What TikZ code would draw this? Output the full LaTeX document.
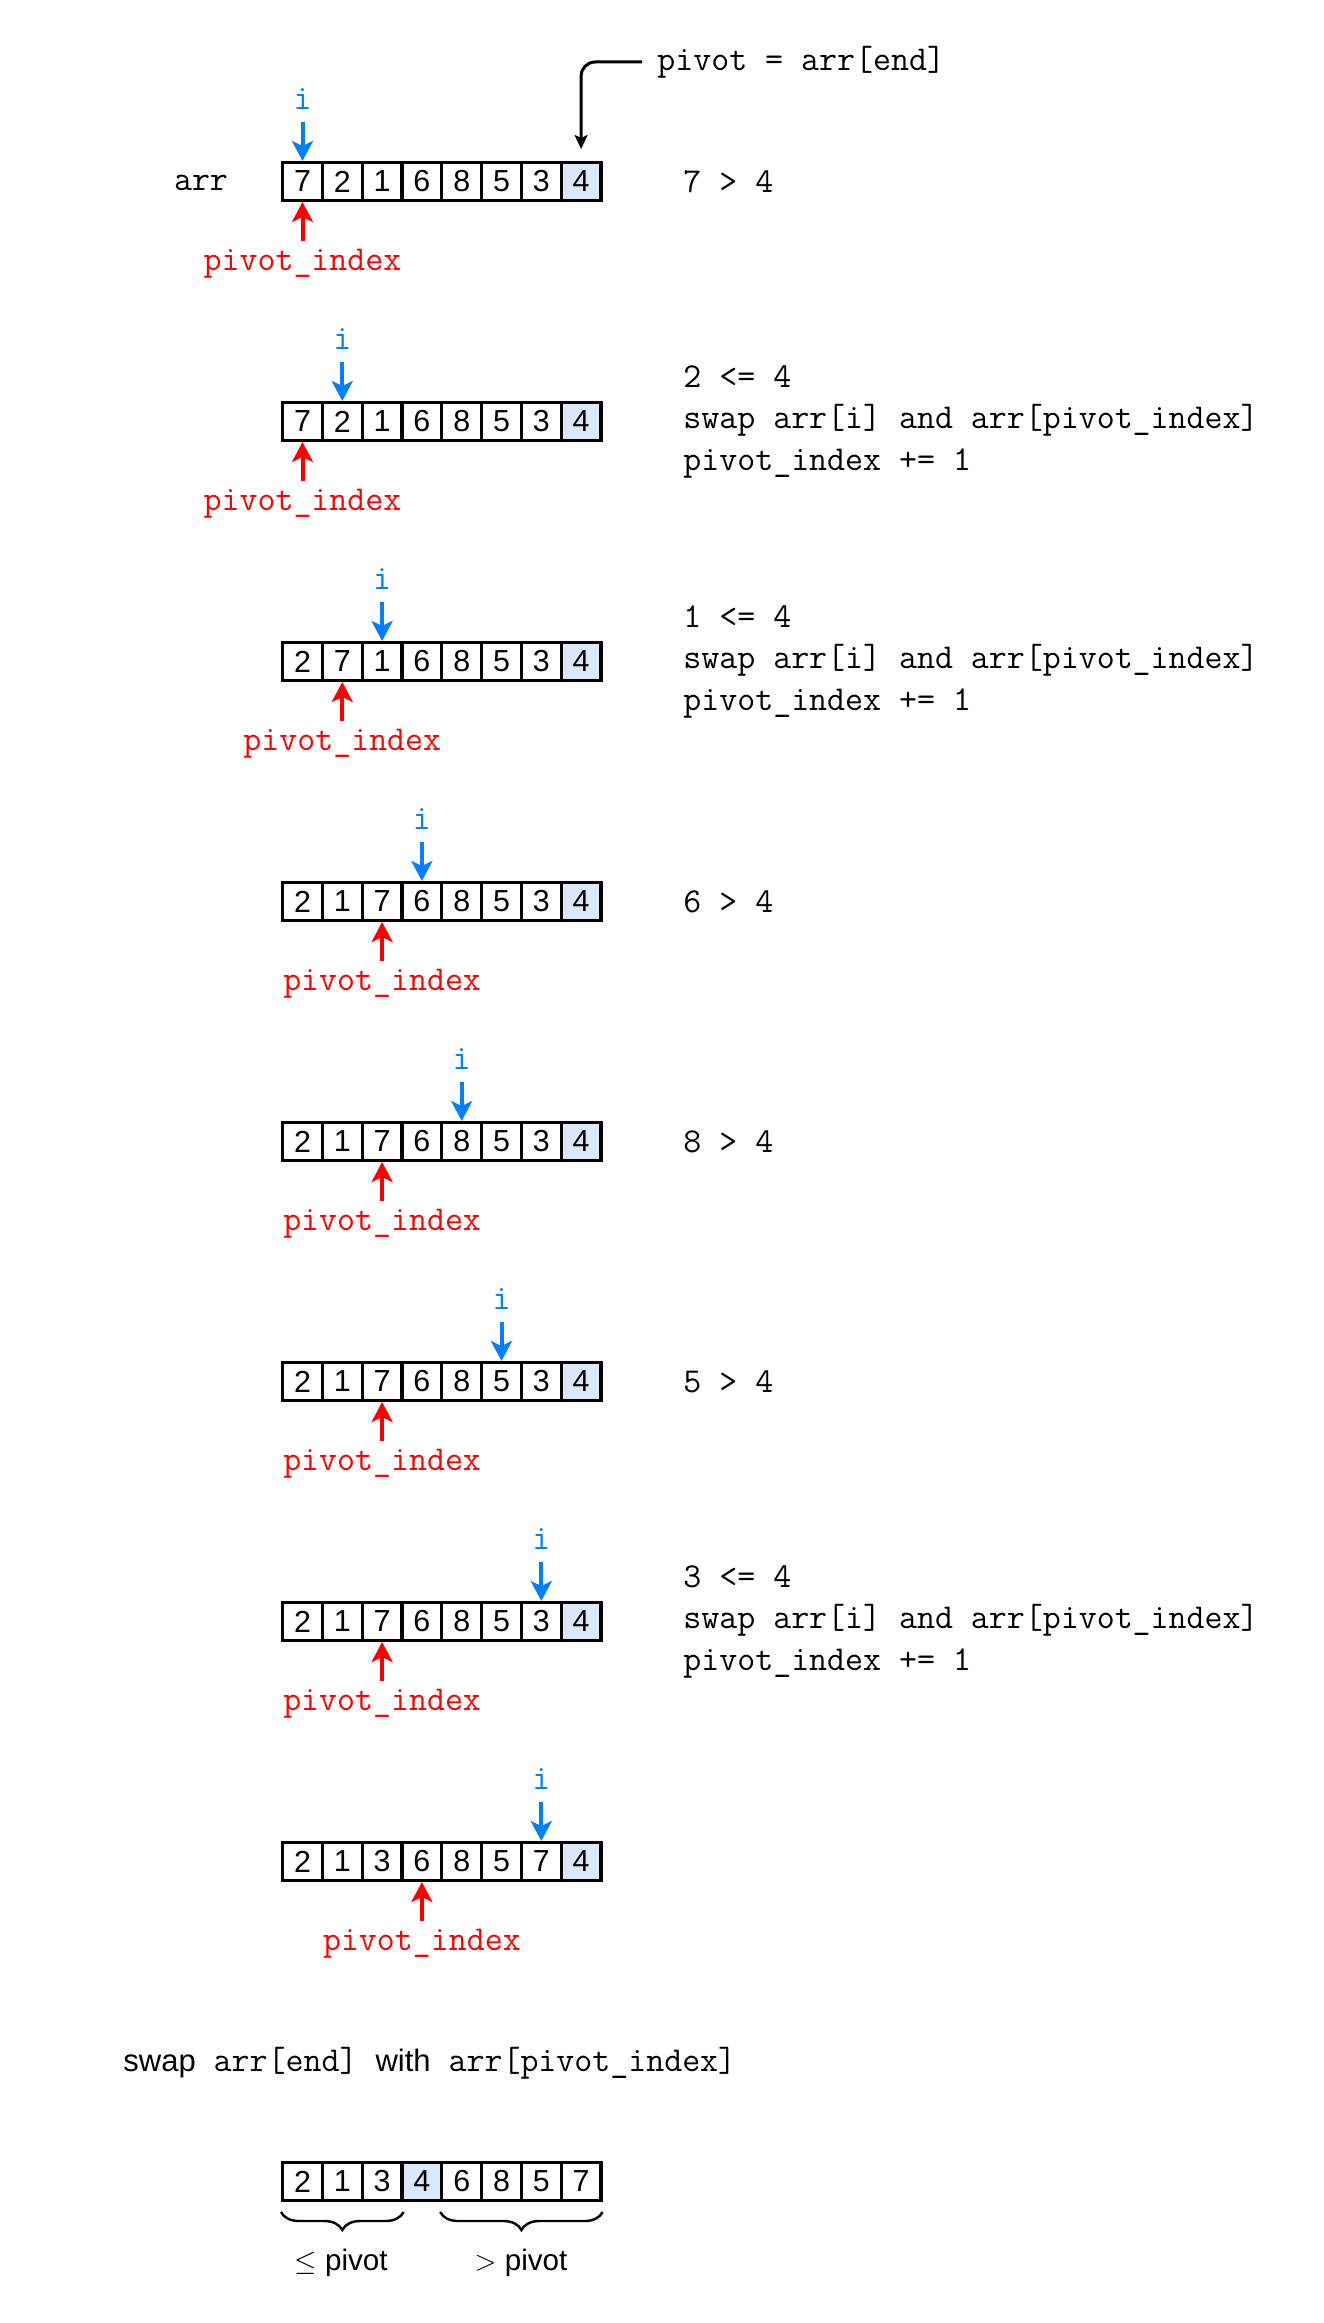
\documentclass[tikz,border=0pt]{standalone}
\usepackage{amsmath}
\usepackage{amssymb}
\usepackage{fontspec}
\setsansfont{Liberation Sans}
\usetikzlibrary{arrows.meta,decorations.pathreplacing}
\definecolor{iblue}{RGB}{0,127,255}
\definecolor{pired}{RGB}{255,0,0}
\definecolor{pivfill}{HTML}{DAE8FC}

\begin{document}
\begin{tikzpicture}[x=0.5pt, y=-0.5pt,
	cell/.style={draw=black, line width=1.6pt, minimum width=19.9pt, minimum height=18.9pt, inner sep=0pt, font=\sffamily\fontsize{15.2}{16}\selectfont},
	code/.style={font=\ttfamily\fontsize{17.45}{20.75}\selectfont, inner sep=0pt},
	note/.style={code, anchor=west, align=left},
	ilbl/.style={code, text=iblue, anchor=south, inner sep=6pt},
	plbl/.style={code, text=pired, anchor=north, inner sep=4pt},
	iarrow/.style={-{Stealth[length=10pt, width=10.5pt, inset=2.5pt]}, line width=2pt, draw=iblue},
	parrow/.style={-{Stealth[length=10pt, width=10.5pt, inset=2.5pt]}, line width=2pt, draw=pired},
	pvarrow/.style={-{Stealth[length=7pt, width=6.5pt, inset=1.5pt]}, line width=1.5pt, rounded corners=7pt},
	brc/.style={decorate, decoration={brace, amplitude=9pt}, line width=1.2pt},
	brlbl/.style={font=\sffamily\fontsize{14.8}{16}\selectfont, inner sep=0pt}]
	\useasboundingbox (0,0) rectangle (1323,2323);

	% rows: number / y / pivot cell / i / pivot_index / values
	\foreach \r/\ry/\p/\ci/\cp/\vals in {
		1/181.5/8/1/1/{7,2,1,6,8,5,3,4},
		2/421.5/8/2/1/{7,2,1,6,8,5,3,4},
		3/661.5/8/3/2/{2,7,1,6,8,5,3,4},
		4/901.5/8/4/3/{2,1,7,6,8,5,3,4},
		5/1141.5/8/5/3/{2,1,7,6,8,5,3,4},
		6/1381.5/8/6/3/{2,1,7,6,8,5,3,4},
		7/1621.5/8/7/3/{2,1,7,6,8,5,3,4},
		8/1861.5/8/7/4/{2,1,3,6,8,5,7,4}} {
		\foreach \v [count=\c] in \vals {
			\ifnum\c=\p \def\cfill{pivfill}\else\def\cfill{white}\fi
			\node[cell, fill=\cfill] (r\r-\c) at ({282.6+39.8*(\c-0.5)}, \ry) {\v};
		}
		\node[ilbl] (i\r) at ({282.6+39.8*(\ci-0.5)}, \ry-59.5) {i};
		\draw[iarrow] (i\r) -- (r\r-\ci);
		\node[plbl] (p\r) at ({282.6+39.8*(\cp-0.5)}, \ry+59.5) {pivot\_index};
		\draw[parrow] (p\r) -- (r\r-\cp);
	}

	\node[code] (arr) at (201,183) {arr};
	\node[code, anchor=west] (pivlbl) at (657,62) {pivot = arr[end]};
	\draw[pvarrow, shorten <=7.5pt, shorten >=6pt] (pivlbl.west) -| (r1-8.north);

	% what happens at each step
	\node[note] (n1) at (683,181.5) {7 > 4};
	\node[note] (n2) at (683,421.5) {2 <= 4\\swap arr[i] and arr[pivot\_index]\\pivot\_index += 1};
	\node[note] (n3) at (683,661.5) {1 <= 4\\swap arr[i] and arr[pivot\_index]\\pivot\_index += 1};
	\node[note] (n4) at (683,901.5) {6 > 4};
	\node[note] (n5) at (683,1141.5) {8 > 4};
	\node[note] (n6) at (683,1381.5) {5 > 4};
	\node[note] (n7) at (683,1621.5) {3 <= 4\\swap arr[i] and arr[pivot\_index]\\pivot\_index += 1};

	% last swap
	\node[code, anchor=west] (swp) at (123,2063) {\textsf{\fontsize{15.5}{16}\selectfont swap} arr[end] \textsf{\fontsize{15.5}{16}\selectfont with} arr[pivot\_index]};
	\foreach \v [count=\c] in {2,1,3,4,6,8,5,7} {
		\ifnum\c=4 \def\cfill{pivfill}\else\def\cfill{white}\fi
		\node[cell, fill=\cfill] (r9-\c) at ({282.6+39.8*(\c-0.5)}, 2181.5) {\v};
	}
	\draw[brc] ([yshift=-5pt]r9-3.south east) -- ([yshift=-5pt]r9-1.south west);
	\draw[brc] ([yshift=-5pt]r9-8.south east) -- ([yshift=-5pt]r9-5.south west);
	\node[brlbl] (le) at (341,2263) {$\leq$ pivot};
	\node[brlbl] (gt) at (521,2263) {$>$ pivot};
\end{tikzpicture}
\end{document}
